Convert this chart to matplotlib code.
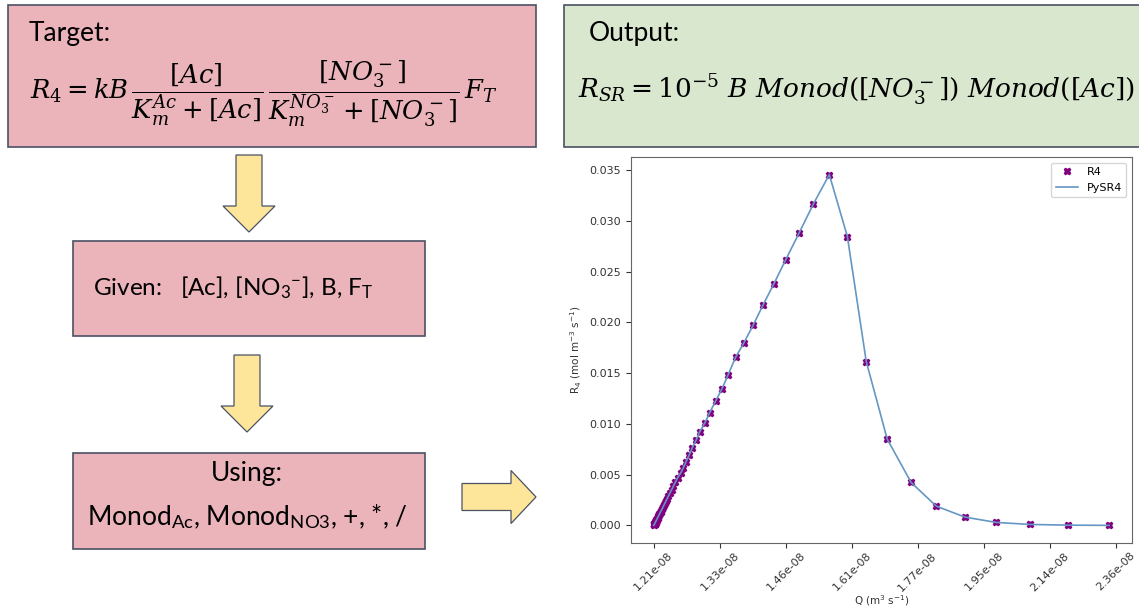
import numpy as np
import matplotlib.pyplot as plt
from matplotlib.patches import Rectangle, FancyArrow
from matplotlib.ticker import NullLocator

plt.rcParams['font.family'] = ['Lato', 'DejaVu Sans']
plt.rcParams['mathtext.fontset'] = 'custom'
plt.rcParams['mathtext.rm'] = 'Lato'
plt.rcParams['mathtext.it'] = 'Lato:italic'

# flow rate Q (x 1e-8 m3/s) and rate R4 (mol m-3 s-1)
q_e8 = [1.2100, 1.2109, 1.2110, 1.2112, 1.2113, 1.2114, 1.2116, 1.2117, 1.2119,
        1.2121, 1.2123, 1.2126, 1.2128, 1.2131, 1.2134, 1.2137, 1.2141, 1.2145,
        1.2150, 1.2155, 1.2160, 1.2167, 1.2174, 1.2181, 1.2189, 1.2198, 1.2209,
        1.2219, 1.2231, 1.2245, 1.2260, 1.2276, 1.2294, 1.2314, 1.2336, 1.2360,
        1.2386, 1.2415, 1.2448, 1.2484, 1.2523, 1.2580, 1.2629, 1.2677, 1.2732,
        1.2788, 1.2861, 1.2929, 1.3029, 1.3117, 1.3230, 1.3352, 1.3471, 1.3619,
        1.3778, 1.3964, 1.4166, 1.4394, 1.4641, 1.4925, 1.5237, 1.5590,
        1.6002, 1.6444, 1.6950, 1.7545, 1.8194, 1.8966, 1.9832, 2.0828, 2.2004, 2.3354]
r4 = [0.0, 0.00010, 0.00011, 0.00013, 0.00015, 0.00016, 0.00018, 0.00019, 0.00021,
      0.00024, 0.00026, 0.00029, 0.00032, 0.00035, 0.00038, 0.00042, 0.00046, 0.00051,
      0.00056, 0.00062, 0.00068, 0.00075, 0.00083, 0.00091, 0.00100, 0.00110, 0.00122,
      0.00134, 0.00147, 0.00162, 0.00179, 0.00197, 0.00217, 0.00239, 0.00263, 0.00290,
      0.00319, 0.00351, 0.00387, 0.00426, 0.00469, 0.00516, 0.00569, 0.00627, 0.00690,
      0.00761, 0.00837, 0.00922, 0.01013, 0.01111, 0.01225, 0.01346, 0.01483, 0.01657,
      0.01795, 0.01969, 0.02169, 0.02382, 0.02618, 0.02880, 0.03166, 0.03455,
      0.02845, 0.01614, 0.00850, 0.00423, 0.00190, 0.00082, 0.00030, 0.00010, 0.00003, 0.00001]
# symbolic regression result, indistinguishable from R4 at this scale
pysr4 = list(r4)

q_ticks = [1.21e-8, 1.331e-8, 1.4641e-8, 1.61051e-8, 1.771561e-8,
           1.9487171e-8, 2.14358881e-8, 2.357947691e-8]

pink = '#ebb3ba'
green = '#d9e7cf'
gold = '#fde59a'
edge = '#4a5263'

fig = plt.figure(figsize=(11.39, 6.09), dpi=100)

# canvas in pixel units for the flow chart
bg = fig.add_axes([0, 0, 1, 1])
bg.set_xlim(0, 1139)
bg.set_ylim(609, 0)
bg.axis('off')


def box(x0, y0, x1, y1, color):
    bg.add_patch(Rectangle((x0, y0), x1 - x0, y1 - y0, facecolor=color,
                           edgecolor=edge, lw=1.2, clip_on=False))


box(8, 5, 536, 147, pink)
box(564, 5, 1160, 147, green)
box(73, 241, 425, 336, pink)
box(73, 453, 425, 549, pink)

arrow_kw = dict(facecolor=gold, edgecolor=edge, lw=0.9, length_includes_head=True)
bg.add_patch(FancyArrow(249, 155, 0, 77, width=26, head_width=52, head_length=26, **arrow_kw))
bg.add_patch(FancyArrow(247, 355, 0, 77, width=26, head_width=52, head_length=26, **arrow_kw))
bg.add_patch(FancyArrow(462, 497, 74, 0, width=27, head_width=53, head_length=25, **arrow_kw))

bg.text(29, 33, 'Target:', fontsize=19, va='center')
bg.text(30, 94, r'$R_4 = kB\,\dfrac{[Ac]}{K_m^{Ac}+[Ac]}\,\dfrac{[NO_3^-]}{K_m^{NO_3^-}+[NO_3^-]}\,F_T$',
        fontsize=18.5, va='center', math_fontfamily='dejavuserif')
bg.text(589, 33, 'Output:', fontsize=19, va='center')
bg.text(578, 90, r'$R_{SR} = 10^{-5}\ B\ Monod([NO_3^-])\ Monod([Ac])$',
        fontsize=19, va='center', math_fontfamily='dejavuserif')
bg.text(93, 288, r'Given:   [Ac], [NO$_3$$^{\mathregular{-}}$], B, F$_\mathregular{T}$',
        fontsize=17.5, va='center')
bg.text(247, 474, 'Using:', fontsize=19, ha='center', va='center')
bg.text(247, 517, r'Monod$_\mathregular{Ac}$, Monod$_\mathregular{NO3}$, +, *, /',
        fontsize=19, ha='center', va='center')

# R4 vs Q plot
ax = fig.add_axes([631 / 1139, (609 - 543) / 609, (1132 - 631) / 1139, (543 - 157) / 609])
q = np.array(q_e8) * 1e-8
ax.plot(q, r4, 'X', color='purple', ms=5, linestyle='none', label='R4')
ax.plot(q, pysr4, color='#6497c4', lw=1.2, label='PySR4')
ax.set_xscale('log')
ax.set_xticks(q_ticks)
ax.set_xticklabels([f'{t:.2e}' for t in q_ticks], family='DejaVu Sans')
ax.xaxis.set_minor_locator(NullLocator())
ax.tick_params(axis='x', labelrotation=45, pad=2)
ax.tick_params(labelsize=8, colors='#333333', width=0.8)
for lab in ax.get_yticklabels():
    lab.set_family('DejaVu Sans')
for s in ax.spines.values():
    s.set_color('#666666')
ax.set_xlabel(r'Q (m$^3$ s$^{-1}$)', fontsize=7.5, family='DejaVu Sans',
              math_fontfamily='dejavusans', color='#333333', labelpad=0)
ax.set_ylabel(r'R$_4$ (mol m$^{-3}$ s$^{-1}$)', fontsize=7.5, family='DejaVu Sans',
              math_fontfamily='dejavusans', color='#333333')
leg = ax.legend(loc='upper right', prop={'family': 'DejaVu Sans', 'size': 8})

fig.savefig('out.png', dpi=100)
